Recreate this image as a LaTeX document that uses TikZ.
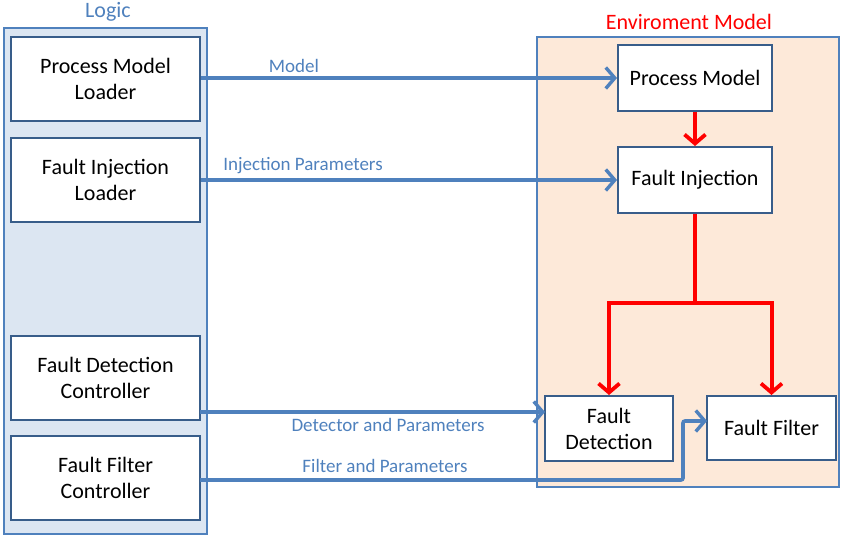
\documentclass[tikz,border=0pt]{standalone}
\usepackage{fontspec}
\setmainfont{Carlito}
\usepackage{xcolor}
\usepackage{tikz}
\usetikzlibrary{arrows.meta,positioning}
\definecolor{frameblue}{RGB}{79,129,189}
\definecolor{boxblue}{RGB}{56,93,138}
\definecolor{logicfill}{RGB}{220,230,242}
\definecolor{envfill}{RGB}{253,233,217}
\begin{document}
\begin{tikzpicture}
[x=1pt,y=-1pt,
 box/.style={shape=rectangle,draw=boxblue,fill=white,line width=2pt,align=center,
	font=\fontsize{22}{26}\selectfont,inner sep=0pt},
 lbl/.style={text=frameblue,font=\fontsize{19}{22}\selectfont,inner sep=0pt},
 flow/.style={draw=frameblue,line width=3.6pt,-{Straight Barb[length=9pt,width=21pt,line width=3.4pt]}},
 fault/.style={draw=red,line width=4pt,-{Straight Barb[length=9pt,width=21pt,line width=3.8pt]}}]
\useasboundingbox (0,0) rectangle (846,540);
% frames
\draw[frameblue,fill=logicfill,line width=2.2pt] (4,28) rectangle (207,534);
\draw[frameblue,fill=envfill,line width=2.2pt] (537,37) rectangle (839,487);
\node[lbl,font=\fontsize{22}{26}\selectfont] (logic) at (108,12) {Logic};
\node[lbl,text=red,font=\fontsize{22}{26}\selectfont] (env) at (689,22) {Enviroment Model};
% logic side
\node[box,minimum width=189pt,minimum height=84pt] (pml) at (105.5,79) {Process Model\\Loader};
\node[box,minimum width=189pt,minimum height=84pt] (fil) at (105.5,180) {Fault Injection\\Loader};
\node[box,minimum width=189pt,minimum height=84pt] (fdc) at (105.5,378) {Fault Detection\\Controller};
\node[box,minimum width=189pt,minimum height=84pt] (ffc) at (105.5,478) {Fault Filter\\Controller};
% environment side
\node[box,minimum width=154pt,minimum height=66pt] (pm) at (695,78) {Process Model};
\node[box,minimum width=154pt,minimum height=66pt] (fi) at (695,180) {Fault Injection};
\node[box,minimum width=128pt,minimum height=65pt] (fd) at (609,428.5) {Fault\\Detection};
\node[box,minimum width=129pt,minimum height=64pt] (ff) at (771.5,428) {Fault Filter};
% connector ends
\coordinate (fdout) at (200,412);
\coordinate (fdin) at (545,412);
\coordinate (ffout) at (200,480);
\coordinate (ffin) at (707,421);
\coordinate (split) at (695,303);
% blue connectors
\path
\foreach \startNode/\endNode in {pml.east |- pm.west/pm.west,fil.east/fi.west,fdout/fdin}
{
	(\startNode) edge[flow] (\endNode)
};
\draw[flow,rounded corners=2pt] (ffout) -- (683,480) -- (683,421) -- (ffin);
% labels
\node[lbl] (m) at (294,66) {Model};
\node[lbl] (ip) at (303,166) {Injection Parameters};
\node[lbl] (dp) at (388,425) {Detector and Parameters};
\node[lbl] (fp) at (385,466) {Filter and Parameters};
% red connectors
\draw[fault] (pm) -- (fi);
\draw[draw=red,line width=4pt] (fi.south) -- (split);
\draw[fault] (split) -| (fd.north);
\draw[fault] (split) -| (ff.north);
\end{tikzpicture}
\end{document}
